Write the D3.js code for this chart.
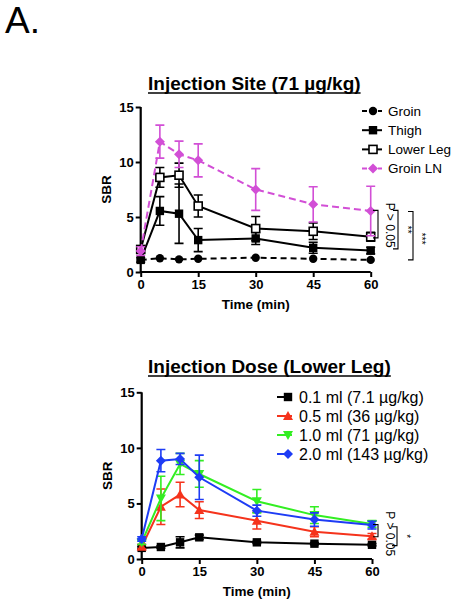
<!DOCTYPE html>
<html><head><meta charset="utf-8">
<script src="https://cdn.jsdelivr.net/npm/d3@7"></script>
<style>body{margin:0;background:#fff}svg{display:block}text{font-family:"Liberation Sans",Arial,Helvetica,sans-serif}</style>
</head><body>
<svg id="c" width="460" height="605"></svg>
<script>
// ---- data ----
const times = [0, 5, 10, 15, 30, 45, 60];
const xTicks = [0, 15, 30, 45, 60];
const yTicks = [0, 5, 10, 15];

// Injection Site (71 µg/kg)
const siteNames = ["Groin", "Thigh", "Lower Leg", "Groin LN"];
const groin = [1.1, 1.25, 1.15, 1.2, 1.3, 1.2, 1.1];
const groinErr = [0, 0, 0, 0, 0, 0, 0];
const thigh = [1.1, 5.55, 5.3, 2.9, 3.05, 2.2, 1.95];
const thighErr = [0.2, 1.3, 2.7, 1.05, 0.55, 0.5, 0.3];
const lowerLeg = [2.05, 8.6, 8.8, 6.0, 3.95, 3.7, 3.2];
const lowerLegErr = [0.3, 0.9, 1.1, 1.0, 1.1, 0.75, 0.4];
const groinLN = [1.9, 11.85, 10.7, 10.15, 7.5, 6.15, 5.55];
const groinLNErr = [0.4, 1.5, 1.2, 1.5, 1.9, 1.6, 2.25];

// Injection Dose (Lower Leg)
const doseNames = ["0.1 ml (7.1 µg/kg)", "0.5 ml (36 µg/kg)", "1.0 ml (71 µg/kg)", "2.0 ml (143 µg/kg)"];
const d01 = [1.0, 1.08, 1.5, 1.95, 1.5, 1.38, 1.28];
const d01Err = [0.1, 0.1, 0.5, 0.2, 0.1, 0.1, 0.1];
const d05 = [1.1, 4.7, 5.8, 4.4, 3.45, 2.45, 2.05];
const d05Err = [0.2, 1.6, 1.1, 0.75, 0.75, 0.45, 0.25];
const d10 = [1.5, 5.45, 8.55, 7.65, 5.2, 3.95, 3.15];
const d10Err = [0.2, 2.0, 0.95, 1.2, 1.05, 0.75, 0.3];
const d20 = [1.8, 8.85, 9.0, 7.35, 4.35, 3.55, 3.05];
const d20Err = [0.2, 1.0, 0.5, 2.0, 0.5, 0.6, 0.35];

const svg = d3.select("#c");
svg.append("text").attr("x", 5).attr("y", 33).attr("font-size", 37).text("A.");

const FONT = '"Liberation Sans",Arial,Helvetica,sans-serif';

function panel(cfg) {
  const x = d3.scaleLinear().domain([0, 60]).range(cfg.xr);
  const y = d3.scaleLinear().domain([0, 15]).range(cfg.yr);
  const g = svg.append("g");
  // title
  const t = g.append("text").attr("x", cfg.titleX).attr("y", cfg.titleY)
    .attr("font-size", 19).attr("font-weight", "bold").text(cfg.title);
  const tw = t.node().getComputedTextLength();
  g.append("line").attr("x1", cfg.titleX).attr("x2", cfg.titleX + tw)
    .attr("y1", cfg.titleY + 3).attr("y2", cfg.titleY + 3).attr("stroke", "#000").attr("stroke-width", 1.6);

  // axes
  const ax = g.append("g").attr("transform", `translate(0,${cfg.yr[0]})`)
    .call(d3.axisBottom(x).tickValues(xTicks).tickSize(5).tickPadding(3).tickFormat(d3.format("d")));
  const ay = g.append("g").attr("transform", `translate(${cfg.xr[0]},0)`)
    .call(d3.axisLeft(y).tickValues(yTicks).tickSize(5).tickPadding(2).tickFormat(d3.format("d")));
  [ax, ay].forEach(a => {
    a.select(".domain").attr("stroke-width", 2.2);
    a.selectAll(".tick line").attr("stroke-width", 2);
    a.selectAll("text").attr("font-size", 13).attr("font-weight", "bold").attr("font-family", FONT);
  });
  ax.select(".domain").attr("d", `M${cfg.xr[0]},0H${cfg.xr[1]}`);
  ay.select(".domain").attr("d", `M0,${cfg.yr[0]}V${cfg.yr[1]}`);

  g.append("text").attr("x", (cfg.xr[0] + cfg.xr[1]) / 2).attr("y", cfg.yr[0] + 37)
    .attr("text-anchor", "middle").attr("font-size", 13.5).attr("font-weight", "bold").text("Time (min)");
  g.append("text").attr("transform", `translate(${cfg.xr[0] - 30},${(cfg.yr[0] + cfg.yr[1]) / 2}) rotate(-90)`)
    .attr("text-anchor", "middle").attr("font-size", 13.5).attr("font-weight", "bold").text("SBR");

  // series
  cfg.series.forEach(s => {
    const pts = times.map((tm, i) => ({ t: tm, v: s.values[i], e: s.err[i] }));
    const sg = g.append("g");
    pts.filter(p => p.e > 0).forEach(p => {
      const xx = x(p.t), y1 = y(p.v + p.e), y2 = y(p.v - p.e);
      sg.append("path").attr("d", `M${xx},${y1}V${y2}M${xx - 4.5},${y1}H${xx + 4.5}M${xx - 4.5},${y2}H${xx + 4.5}`)
        .attr("stroke", s.color).attr("stroke-width", 1.6).attr("fill", "none");
    });
    sg.append("path").datum(pts)
      .attr("d", d3.line().x(p => x(p.t)).y(p => y(p.v)))
      .attr("fill", "none").attr("stroke", s.color).attr("stroke-width", 2)
      .attr("stroke-dasharray", s.dash || null);
    pts.forEach(p => drawMarker(sg, s, x(p.t), y(p.v)));
  });

  // legend
  cfg.series.forEach((s, i) => {
    const ly = cfg.legY + i * cfg.legDy;
    const lg = g.append("g");
    lg.append("line").attr("x1", cfg.legX1).attr("x2", cfg.legX2).attr("y1", ly).attr("y2", ly)
      .attr("stroke", s.color).attr("stroke-width", 2).attr("stroke-dasharray", s.dash ? "5,3" : null);
    drawMarker(lg, s, cfg.legM, ly);
    lg.append("text").attr("x", cfg.legTX).attr("y", ly).attr("dy", "0.36em")
      .attr("font-size", cfg.legFont).text(s.name);
  });

  // significance brackets
  cfg.brackets.forEach(b => {
    const bx = b.x, ya = y(b.from), yb = y(b.to);
    g.append("path").attr("d", `M${bx - 5},${ya}H${bx}V${yb}H${bx - 5}`)
      .attr("fill", "none").attr("stroke", "#000").attr("stroke-width", 1.1);
    g.append("text").attr("transform", `translate(${bx + b.dx},${(ya + yb) / 2 + (b.dy || 0)}) rotate(90)`)
      .attr("text-anchor", "middle").attr("font-size", b.fs).text(b.label);
  });
  return { x, y };
}

function drawMarker(g, s, cx, cy) {
  const c = s.color;
  if (s.shape === "circle") {
    g.append("circle").attr("cx", cx).attr("cy", cy).attr("r", 4.2).attr("fill", c);
  } else if (s.shape === "square") {
    g.append("rect").attr("x", cx - 4.2).attr("y", cy - 4.2).attr("width", 8.4).attr("height", 8.4).attr("fill", c);
  } else if (s.shape === "open") {
    g.append("rect").attr("x", cx - 4).attr("y", cy - 4).attr("width", 8).attr("height", 8)
      .attr("fill", "#fff").attr("stroke", c).attr("stroke-width", 1.6);
  } else if (s.shape === "diamond") {
    g.append("path").attr("d", `M${cx},${cy - 5}L${cx + 5},${cy}L${cx},${cy + 5}L${cx - 5},${cy}Z`).attr("fill", c);
  } else if (s.shape === "up") {
    g.append("path").attr("d", `M${cx},${cy - 5}L${cx + 5},${cy + 4}L${cx - 5},${cy + 4}Z`).attr("fill", c);
  } else if (s.shape === "down") {
    g.append("path").attr("d", `M${cx},${cy + 5}L${cx + 5},${cy - 4}L${cx - 5},${cy - 4}Z`).attr("fill", c);
  }
}

panel({
  title: "Injection Site (71 µg/kg)", titleX: 148, titleY: 90,
  xr: [140.7, 370.7], yr: [272, 107],
  series: [
    { name: siteNames[0], values: groin, err: groinErr, color: "#000", shape: "circle", dash: "6,4" },
    { name: siteNames[1], values: thigh, err: thighErr, color: "#000", shape: "square" },
    { name: siteNames[2], values: lowerLeg, err: lowerLegErr, color: "#000", shape: "open" },
    { name: siteNames[3], values: groinLN, err: groinLNErr, color: "#d24fd6", shape: "diamond", dash: "7,4" }
  ],
  legY: 111, legDy: 19.2, legX1: 362, legX2: 382, legM: 373, legTX: 388, legFont: 13.5,
  brackets: [
    { x: 378, from: 5.6, to: 3.1, label: "P > 0.05", dx: 8, dy: 1, fs: 12 },
    { x: 398, from: 5.6, to: 2.1, label: "**", dx: 6, fs: 10 },
    { x: 413, from: 5.5, to: 1.1, label: "***", dx: 5, dy: 3, fs: 10 }
  ]
});

panel({
  title: "Injection Dose (Lower Leg)", titleX: 148, titleY: 373,
  xr: [141.7, 372], yr: [559, 392.3],
  series: [
    { name: doseNames[0], values: d01, err: d01Err, color: "#000", shape: "square" },
    { name: doseNames[1], values: d05, err: d05Err, color: "#f5331c", shape: "up" },
    { name: doseNames[2], values: d10, err: d10Err, color: "#33ee22", shape: "down" },
    { name: doseNames[3], values: d20, err: d20Err, color: "#1e3cf5", shape: "diamond" }
  ],
  legY: 397, legDy: 19, legX1: 277, legX2: 292, legM: 288, legTX: 299, legFont: 16,
  brackets: [
    { x: 378, from: 3.1, to: 2.0, label: "P > 0.05", dx: 8, dy: 3, fs: 12 },
    { x: 397, from: 2.9, to: 1.2, label: "*", dx: 6, fs: 10 }
  ]
});
</script>
</body></html>
